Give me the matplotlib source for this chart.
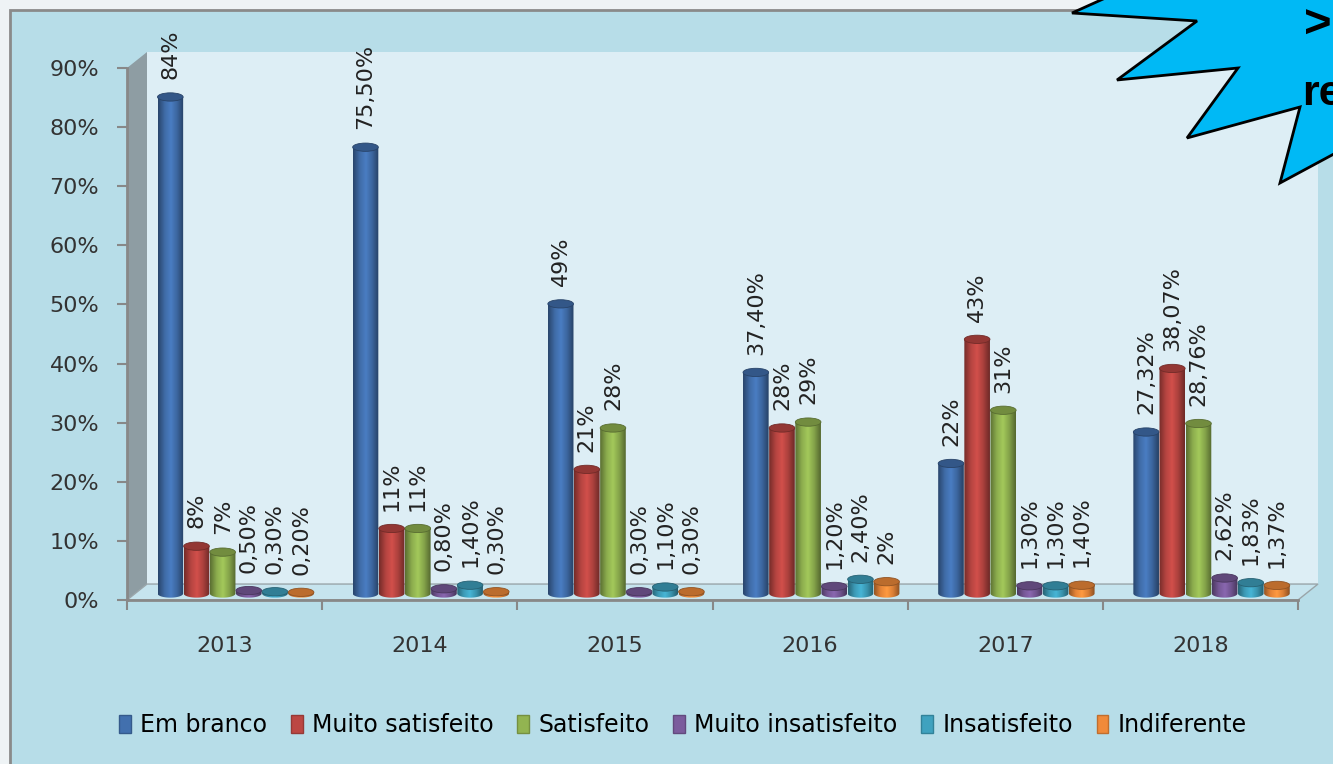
import matplotlib
matplotlib.use('Agg')
import matplotlib.pyplot as plt
import numpy as np
from matplotlib.patches import Polygon, Ellipse, Rectangle
from matplotlib.colors import LinearSegmentedColormap, to_rgb

# data
years = ['2013', '2014', '2015', '2016', '2017', '2018']
series = ['Em branco', 'Muito satisfeito', 'Satisfeito',
          'Muito insatisfeito', 'Insatisfeito', 'Indiferente']
em_branco = [84, 75.5, 49, 37.4, 22, 27.32]
muito_satisfeito = [8, 11, 21, 28, 43, 38.07]
satisfeito = [7, 11, 28, 29, 31, 28.76]
muito_insatisfeito = [0.5, 0.8, 0.3, 1.2, 1.3, 2.62]
insatisfeito = [0.3, 1.4, 1.1, 2.4, 1.3, 1.83]
indiferente = [0.2, 0.3, 0.3, 2, 1.4, 1.37]
values = [em_branco, muito_satisfeito, satisfeito,
          muito_insatisfeito, insatisfeito, indiferente]
colors = ['#4270ae', '#bc4743', '#92b451', '#7b5c9d', '#3fa2bf', '#f08a3a']


def pct(v):
    if float(v).is_integer():
        return f'{int(v)}%'
    return f'{v:.2f}'.replace('.', ',') + '%'


W, H = 1333, 764
fig = plt.figure(figsize=(W / 100, H / 100), dpi=100)
fig.patch.set_facecolor('#eef3f5')

# chart area frame
fig.add_artist(Rectangle((10 / W, -0.1), 1.2, 1 - 10 / H + 0.1,
                         transform=fig.transFigure, facecolor='#b7dde8',
                         edgecolor='#8a8a8a', lw=2, zorder=-5))

ax = fig.add_axes([127 / W, 1 - 600 / H, (1298 - 127) / W, (600 - 68) / H])
ax.patch.set_visible(False)

dx = 20 / 195.17   # depth offset in x (group units)
dy = 2.7           # depth offset in y (%)

# walls and floor
back = Rectangle((-0.5 + dx, dy), 6, 90, facecolor='#ddeef5',
                 edgecolor='none', zorder=0.3, clip_on=False)
side = Polygon([(-0.5, 0), (-0.5 + dx, dy), (-0.5 + dx, 90 + dy), (-0.5, 90)],
               facecolor='#8e9da3', edgecolor='none', zorder=0.4, clip_on=False)
floor = Polygon([(-0.5, 0), (5.5, 0), (5.5 + dx, dy), (-0.5 + dx, dy)],
                facecolor='#c6e4ee', edgecolor='#9aa5a9', lw=1, zorder=0.5,
                clip_on=False)
for p in (back, side, floor):
    ax.add_patch(p)


def cylinder(xc, w, y0, h, color, z):
    eh = 0.7
    base = np.array(to_rgb(color))
    cmap = LinearSegmentedColormap.from_list(
        'cyl', [base * 0.62, base * 0.95, np.clip(base * 1.12, 0, 1),
                base * 0.9, base * 0.58])
    t = np.linspace(np.pi, 2 * np.pi, 40)
    arc = np.column_stack([xc + w / 2 * np.cos(t), y0 + eh * np.sin(t)])
    pts = np.vstack([[xc - w / 2, y0 + h], arc, [xc + w / 2, y0 + h]])
    clip = Polygon(pts, closed=True, transform=ax.transData)
    grad = np.linspace(0, 1, 64).reshape(1, -1)
    im = ax.imshow(grad, cmap=cmap, extent=(xc - w / 2, xc + w / 2, y0 - eh, y0 + h),
                   aspect='auto', interpolation='bilinear', zorder=z)
    im.set_clip_path(clip)
    ax.add_patch(Ellipse((xc, y0 + h), w, 2 * eh, facecolor=base * 0.78,
                         edgecolor=base * 0.6, lw=0.6, zorder=z + 0.1))


bw = 0.134
y0 = 1.1
for k, (vals, col) in enumerate(zip(values, colors)):
    for i, v in enumerate(vals):
        xc = i - 0.278 + bw * k
        cylinder(xc, bw * 0.98, y0, v, col, 3 + k * 0.2)
        ax.text(xc, y0 + v + 0.7 + 2.3, pct(v), rotation=90, ha='center',
                va='bottom', fontsize=16, color='#222222', zorder=8)

ax.set_xlim(-0.5, 5.5)
ax.set_ylim(0, 90)

ax.set_yticks(range(0, 91, 10))
ax.set_yticklabels([f'{v}%' for v in range(0, 91, 10)])
ax.set_xticks(np.arange(-0.5, 6, 1))
ax.set_xticklabels([])
ax.set_xticks(np.arange(6), minor=True)
ax.set_xticklabels(years, minor=True)
ax.tick_params(axis='y', length=7, width=1.5, color='#888888', pad=13,
               labelsize=16, labelcolor='#333333')
ax.tick_params(axis='x', which='major', length=7, width=1.5, color='#888888')
ax.tick_params(axis='x', which='minor', length=0, pad=26, labelsize=16,
               labelcolor='#333333')
for s in ('top', 'right'):
    ax.spines[s].set_visible(False)
for s in ('left', 'bottom'):
    ax.spines[s].set_color('#888888')
    ax.spines[s].set_linewidth(2)

handles = [Rectangle((0, 0), 1, 1, facecolor=c, edgecolor=np.array(to_rgb(c)) * 0.8)
           for c in colors]
fig.legend(handles, series, loc='center', bbox_to_anchor=(683 / W, 1 - 725 / H),
           ncol=6, frameon=False, handlelength=0.5, handleheight=0.8,
           handletextpad=0.4, columnspacing=1.0,
           prop={'family': ['Liberation Sans Narrow', 'DejaVu Sans'], 'size': 17})

# starburst callout, cut off at the right edge as in the original
star = [(1112, -5), (1072, 13), (1197, 21), (1117, 80), (1238, 68), (1187, 138),
        (1300, 107), (1280, 183), (1345, 148), (1345, -5)]
fig.add_artist(Polygon([(x / W, 1 - y / H) for x, y in star], closed=True,
                       transform=fig.transFigure, facecolor='#00b9f5',
                       edgecolor='black', lw=2, zorder=10))
fig.text(1304 / W, 1 - 26 / H, '>', fontsize=34, fontweight='bold',
         family='Liberation Sans', va='center', ha='left', zorder=11)
fig.text(1302 / W, 1 - 94 / H, 're', fontsize=31, fontweight='bold',
         family='Liberation Sans', va='center', ha='left', zorder=11)

fig.savefig('out.png', dpi=100, facecolor=fig.get_facecolor())
